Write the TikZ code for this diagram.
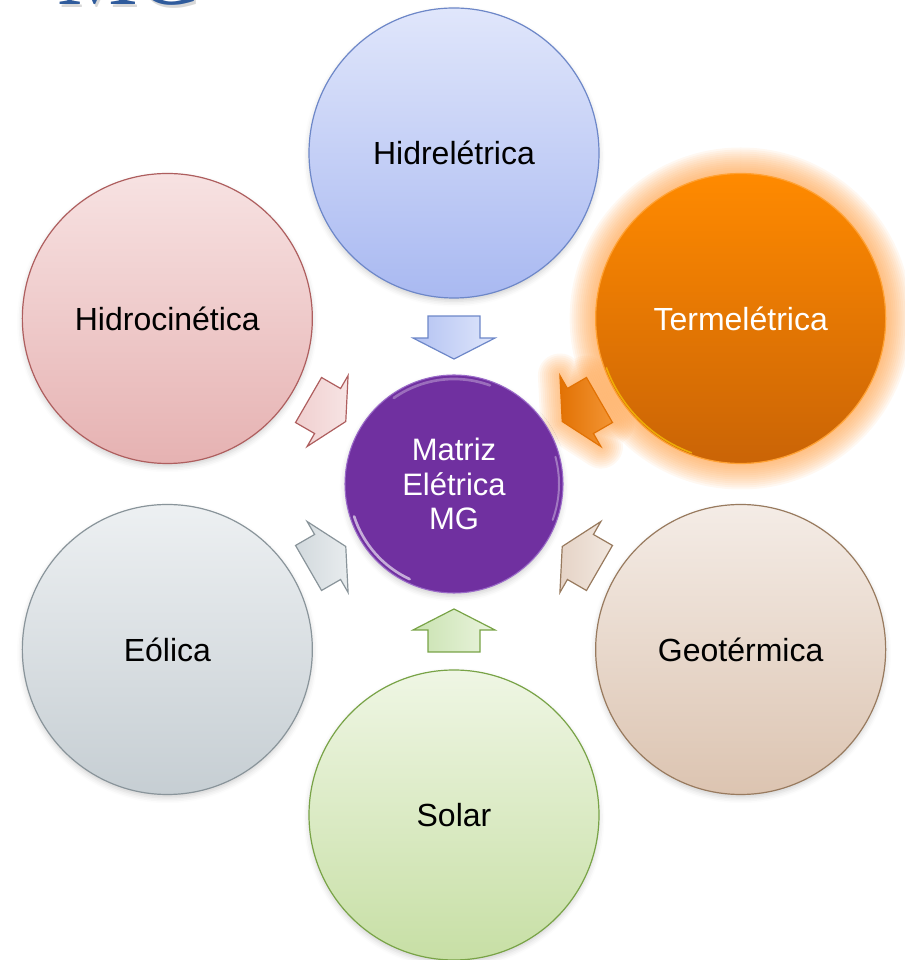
\documentclass[tikz,border=0pt]{standalone}
\usepackage{fontspec}
\setmainfont{Liberation Sans}
\newfontfamily\titlefont{Liberation Serif}
\usetikzlibrary{calc,shadows.blur}

% circle fills (top / bottom / outline)
\definecolor{hidTop}{HTML}{E0E6FB}\definecolor{hidBot}{HTML}{A9B9F1}\definecolor{hidLine}{HTML}{6D87C8}
\definecolor{hcnTop}{HTML}{F7E2E2}\definecolor{hcnBot}{HTML}{E6B2B2}\definecolor{hcnLine}{HTML}{AE5E5E}
\definecolor{eolTop}{HTML}{EDF0F2}\definecolor{eolBot}{HTML}{C6CED3}\definecolor{eolLine}{HTML}{89949A}
\definecolor{solTop}{HTML}{EFF6E4}\definecolor{solBot}{HTML}{C7DFA5}\definecolor{solLine}{HTML}{78A346}
\definecolor{geoTop}{HTML}{F4ECE6}\definecolor{geoBot}{HTML}{DCC4B1}\definecolor{geoLine}{HTML}{987A5E}
\definecolor{terTop}{HTML}{FF8A00}\definecolor{terBot}{HTML}{CA6406}
\definecolor{terGlow}{HTML}{FF9A3A}
\definecolor{hubFill}{HTML}{7030A0}\definecolor{hubLine}{HTML}{9A6AC8}
\definecolor{titleBlue}{HTML}{2F5B9C}
% arrow fills
\definecolor{aHidL}{HTML}{B3C2F2}\definecolor{aHidR}{HTML}{DFE6FB}
\definecolor{aHcnL}{HTML}{F0CFCF}\definecolor{aHcnR}{HTML}{F7E4E4}
\definecolor{aEolL}{HTML}{D2D9DD}\definecolor{aEolR}{HTML}{E8ECEE}
\definecolor{aSolL}{HTML}{C9E2B0}\definecolor{aSolR}{HTML}{EAF4DE}
\definecolor{aGeoL}{HTML}{E5D3C6}\definecolor{aGeoR}{HTML}{F2E8E0}
\definecolor{aTerL}{HTML}{E27204}\definecolor{aTerR}{HTML}{F39534}

\tikzset{
  source/.style={circle, minimum size=217.5pt, inner sep=0pt, line width=0.9pt,
    font=\fontsize{24}{26}\selectfont, align=center},
  softshadow/.style={blur shadow={shadow xshift=0pt, shadow yshift=-2.5pt,
    shadow blur radius=4pt, shadow opacity=18}},
  hub/.style={circle, minimum size=163.5pt, inner sep=0pt, fill=hubFill,
    draw=hubLine, line width=0.8pt, text=white,
    font=\fontsize{23.25}{25.9}\selectfont, align=center},
  flow/.style={line width=0.9pt, line join=miter},
}

% block arrow centred on #1, pointing along angle #2, drawn with style #3
\newcommand\blockarrow[3]{%
  \begin{scope}[shift={(#1)}, rotate=#2]
    \path[#3] (-22,-26) -- (0,-26) -- (0,-41) -- (21,0) -- (0,41) -- (0,26) -- (-22,26) -- cycle;
  \end{scope}}

\begin{document}
\begin{tikzpicture}[x=0.75pt, y=0.75pt]
  \useasboundingbox (0,0) rectangle (905,960);
  \clip (0,0) rectangle (905,960);

  % title, cut by the top edge
  \node[anchor=base west, inner sep=0pt, text=black!30, opacity=0.5,
        font=\titlefont\fontsize{68}{68}\selectfont] (titleshadow) at (59,952) {MG};
  \node[anchor=base west, inner sep=0pt, text=titleBlue,
        font=\titlefont\fontsize{68}{68}\selectfont] (title) at (57,955) {MG};

  % positions
  \coordinate (ctr) at (454,476);
  \coordinate (pHid) at ($(ctr)+(90:331)$);
  \coordinate (pTer) at ($(ctr)+(30:331)$);
  \coordinate (pGeo) at ($(ctr)+(-30:331)$);
  \coordinate (pSol) at ($(ctr)+(-90:331)$);
  \coordinate (pEol) at ($(ctr)+(210:331)$);
  \coordinate (pHcn) at ($(ctr)+(150:331)$);

  % arrow centres, between each source and the hub
  \coordinate (aHid) at ($(ctr)!0.441!(pHid)$);
  \coordinate (aTer) at ($(ctr)!0.441!(pTer)$);
  \coordinate (aGeo) at ($(ctr)!0.441!(pGeo)$);
  \coordinate (aSol) at ($(ctr)!0.441!(pSol)$);
  \coordinate (aEol) at ($(ctr)!0.441!(pEol)$);
  \coordinate (aHcn) at ($(ctr)!0.441!(pHcn)$);

  % orange glow round the highlighted source and its arrow
  \foreach \k in {1,...,13}
    \fill[terGlow, opacity=0.07] (pTer) circle ({145+2*\k});
  \foreach \w in {3,6,...,33}
    \blockarrow{aTer}{210}{draw=terGlow, draw opacity=0.07, line width=\w pt, line join=round};

  % sources
  \node[source, softshadow, top color=hidTop, bottom color=hidBot, draw=hidLine] (hid) at (pHid) {Hidrelétrica};
  \node[source, softshadow, top color=hcnTop, bottom color=hcnBot, draw=hcnLine] (hcn) at (pHcn) {Hidrocinética};
  \node[source, softshadow, top color=eolTop, bottom color=eolBot, draw=eolLine] (eol) at (pEol) {Eólica};
  \node[source, softshadow, top color=solTop, bottom color=solBot, draw=solLine] (sol) at (pSol) {Solar};
  \node[source, softshadow, top color=geoTop, bottom color=geoBot, draw=geoLine] (geo) at (pGeo) {Geotérmica};
  \node[source, top color=terTop, bottom color=terBot, draw=terTop!80!white, text=white] (ter) at (pTer) {Termelétrica};
  \draw[yellow!60!orange, opacity=0.7, line width=1.2pt] ($(ter.center)+(200:143)$) arc (200:250:143);

  % hub with a glossy rim
  \node[hub, softshadow] (hub) at (ctr) {Matriz\\Elétrica\\MG};
  \draw[white, opacity=0.6, line width=2pt, line cap=round] ($(hub.center)+(198:105)$) arc (198:245:105);
  \draw[white, opacity=0.3, line width=2pt, line cap=round] ($(hub.center)+(70:105)$) arc (70:125:105);
  \draw[white, opacity=0.35, line width=1.5pt, line cap=round] ($(hub.center)+(-20:105)$) arc (-20:15:105);

  % arrows into the hub
  \blockarrow{aHid}{-90}{flow, left color=aHidL, right color=aHidR, draw=hidLine}
  \blockarrow{aHcn}{-30}{flow, left color=aHcnL, right color=aHcnR, draw=hcnLine}
  \blockarrow{aEol}{30}{flow, left color=aEolL, right color=aEolR, draw=eolLine}
  \blockarrow{aSol}{90}{flow, left color=aSolL, right color=aSolR, draw=solLine}
  \blockarrow{aGeo}{150}{flow, left color=aGeoL, right color=aGeoR, draw=geoLine}
  \blockarrow{aTer}{210}{flow, left color=aTerL, right color=aTerR, draw=aTerL}
\end{tikzpicture}
\end{document}
